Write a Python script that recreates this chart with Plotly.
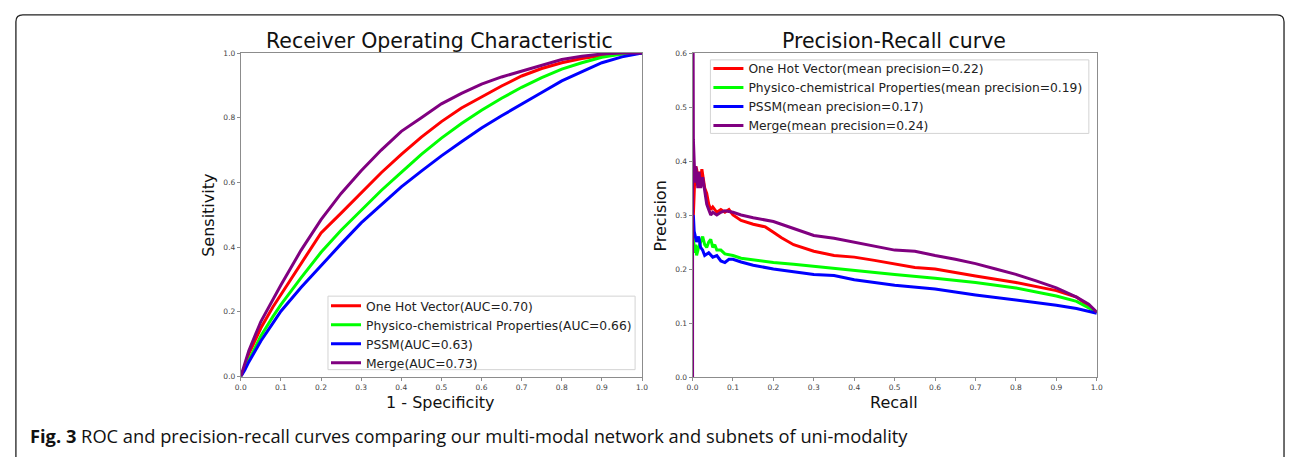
import plotly.graph_objects as go

W, H = 1292, 457

# ---------------- data ----------------
roc_fpr = [0, 0.01, 0.02, 0.05, 0.08, 0.1, 0.15, 0.2, 0.25, 0.3, 0.35, 0.4, 0.45,
           0.5, 0.55, 0.6, 0.65, 0.7, 0.75, 0.8, 0.85, 0.9, 0.95, 1.0]
roc_onehot = [0, 0.03, 0.07, 0.15, 0.215, 0.253, 0.35, 0.444, 0.505, 0.566, 0.63, 0.687, 0.74,
              0.788, 0.83, 0.864, 0.898, 0.929, 0.952, 0.97, 0.983, 0.992, 0.998, 1.0]
roc_physico = [0, 0.025, 0.055, 0.125, 0.185, 0.222, 0.305, 0.384, 0.452, 0.515, 0.575, 0.631, 0.687,
               0.737, 0.782, 0.823, 0.86, 0.894, 0.924, 0.95, 0.97, 0.987, 0.997, 1.0]
roc_pssm = [0, 0.02, 0.045, 0.11, 0.165, 0.202, 0.275, 0.343, 0.41, 0.475, 0.532, 0.586, 0.635,
            0.682, 0.726, 0.768, 0.806, 0.843, 0.878, 0.914, 0.943, 0.97, 0.988, 1.0]
roc_merge = [0, 0.04, 0.08, 0.17, 0.24, 0.283, 0.39, 0.485, 0.566, 0.636, 0.70, 0.758, 0.80,
             0.843, 0.875, 0.904, 0.926, 0.944, 0.963, 0.98, 0.99, 0.997, 1.0, 1.0]

pr_merge_recall = [0, 0, 0.002, 0.004, 0.006, 0.008, 0.01, 0.013, 0.016, 0.02, 0.025, 0.03, 0.035,
                   0.04, 0.045, 0.05, 0.06, 0.07, 0.08, 0.1, 0.12, 0.15, 0.2, 0.25, 0.3, 0.35, 0.4,
                   0.45, 0.5, 0.55, 0.58, 0.6, 0.65, 0.7, 0.75, 0.8, 0.85, 0.9, 0.95, 0.98, 1.0]
pr_merge_prec = [0, 1, 0.44, 0.38, 0.36, 0.39, 0.37, 0.35, 0.38, 0.35, 0.37, 0.345, 0.32,
                 0.31, 0.30, 0.305, 0.30, 0.305, 0.308, 0.305, 0.30, 0.295, 0.288, 0.275, 0.262, 0.257, 0.25,
                 0.242, 0.235, 0.233, 0.228, 0.225, 0.218, 0.21, 0.2, 0.19, 0.178, 0.165, 0.148, 0.135, 0.12]

pr_onehot_recall = [0.002, 0.004, 0.006, 0.008, 0.01, 0.013, 0.016, 0.02, 0.023, 0.026, 0.03, 0.035,
                    0.04, 0.045, 0.05, 0.06, 0.07, 0.08, 0.09, 0.1, 0.12, 0.15, 0.18, 0.2, 0.22, 0.25,
                    0.3, 0.35, 0.4, 0.45, 0.5, 0.55, 0.6, 0.65, 0.7, 0.8, 0.9, 0.95, 1.0]
pr_onehot_prec = [0.30, 0.36, 0.38, 0.39, 0.385, 0.37, 0.38, 0.365, 0.385, 0.37, 0.35, 0.34,
                  0.32, 0.31, 0.315, 0.305, 0.31, 0.305, 0.31, 0.30, 0.29, 0.283, 0.278, 0.268, 0.258, 0.245,
                  0.233, 0.225, 0.222, 0.216, 0.21, 0.203, 0.2, 0.193, 0.187, 0.175, 0.16, 0.148, 0.12]

pr_physico_recall = [0.002, 0.005, 0.008, 0.01, 0.015, 0.02, 0.025, 0.03, 0.035, 0.04, 0.045, 0.05,
                     0.055, 0.06, 0.07, 0.08, 0.1, 0.12, 0.15, 0.2, 0.25, 0.3, 0.4, 0.5, 0.6, 0.7,
                     0.8, 0.9, 0.95, 1.0]
pr_physico_prec = [0.26, 0.23, 0.245, 0.225, 0.24, 0.25, 0.26, 0.245, 0.24, 0.25, 0.255, 0.24,
                   0.245, 0.235, 0.235, 0.228, 0.225, 0.22, 0.217, 0.212, 0.209, 0.205, 0.197, 0.19, 0.183, 0.175,
                   0.165, 0.15, 0.14, 0.12]

pr_pssm_recall = [0.002, 0.004, 0.007, 0.01, 0.015, 0.02, 0.025, 0.03, 0.04, 0.05, 0.06, 0.07, 0.08,
                  0.09, 0.1, 0.12, 0.15, 0.2, 0.25, 0.3, 0.35, 0.4, 0.5, 0.6, 0.7, 0.8, 0.9, 0.95, 1.0]
pr_pssm_prec = [0.30, 0.27, 0.26, 0.25, 0.26, 0.24, 0.235, 0.225, 0.23, 0.222, 0.225, 0.215, 0.212,
                0.218, 0.218, 0.213, 0.207, 0.2, 0.195, 0.19, 0.188, 0.18, 0.17, 0.163, 0.152, 0.143, 0.133, 0.127, 0.118]

roc_labels = ["One Hot Vector(AUC=0.70)", "Physico-chemistrical Properties(AUC=0.66)",
              "PSSM(AUC=0.63)", "Merge(AUC=0.73)"]
pr_labels = ["One Hot Vector(mean precision=0.22)", "Physico-chemistrical Properties(mean precision=0.19)",
             "PSSM(mean precision=0.17)", "Merge(mean precision=0.24)"]
colors = ["#ff0000", "#00ff00", "#0000ff", "#800080"]

x_ticks = [0.0, 0.1, 0.2, 0.3, 0.4, 0.5, 0.6, 0.7, 0.8, 0.9, 1.0]
roc_y_ticks = [0.0, 0.2, 0.4, 0.6, 0.8, 1.0]
pr_y_ticks = [0.0, 0.1, 0.2, 0.3, 0.4, 0.5, 0.6]

caption_bold = "Fig. 3"
caption_text = "ROC and precision-recall curves comparing our multi-modal network and subnets of uni-modality"

# ---------------- figure ----------------
def px(x):
    return x / W

def py(y):
    return 1 - y / H

fig = go.Figure()

roc_series = [roc_onehot, roc_physico, roc_pssm, roc_merge]
for lab, col, ys in zip(roc_labels, colors, roc_series):
    fig.add_trace(go.Scatter(x=roc_fpr, y=ys, mode="lines", name=lab,
                             line=dict(color=col, width=3), xaxis="x", yaxis="y",
                             legend="legend"))

pr_series = [(pr_onehot_recall, pr_onehot_prec), (pr_physico_recall, pr_physico_prec),
             (pr_pssm_recall, pr_pssm_prec), (pr_merge_recall, pr_merge_prec)]
for lab, col, (xs, ys) in zip(pr_labels, colors, pr_series):
    fig.add_trace(go.Scatter(x=xs, y=ys, mode="lines", name=lab,
                             line=dict(color=col, width=3), xaxis="x2", yaxis="y2",
                             legend="legend2"))

tickfont = dict(family="DejaVu Sans", size=7.5, color="#444444")
axis_common = dict(showline=True, linecolor="#8c8c8c", linewidth=1, mirror=True,
                   ticks="outside", ticklen=3, tickcolor="#8c8c8c", showgrid=False,
                   zeroline=False, tickfont=tickfont, tickformat=".1f")

leg_font = dict(family="DejaVu Sans", size=12.3, color="#222222")
fig.update_layout(
    width=W, height=H, autosize=False,
    margin=dict(l=0, r=0, t=0, b=0, pad=0),
    paper_bgcolor="white", plot_bgcolor="white",
    showlegend=True,
    xaxis=dict(domain=[px(237), px(642)], range=[0, 1], tickvals=x_ticks, anchor="y", **axis_common),
    yaxis=dict(domain=[py(380), py(50)], range=[0, 1], tickvals=roc_y_ticks, anchor="x", **axis_common),
    xaxis2=dict(domain=[px(693), px(1101)], range=[0, 1], tickvals=x_ticks, anchor="y2", **axis_common),
    yaxis2=dict(domain=[py(380.5), py(50)], range=[0, 0.6], tickvals=pr_y_ticks, anchor="x2", **axis_common),
    legend=dict(x=px(323), y=py(293), xanchor="left", yanchor="top", xref="paper", yref="paper",
                bgcolor="rgba(0,0,0,0)", borderwidth=0, itemwidth=30,
                font=leg_font, tracegroupgap=0),
    legend2=dict(x=px(709), y=py(51), xanchor="left", yanchor="top", xref="paper", yref="paper",
                 bgcolor="rgba(0,0,0,0)", borderwidth=0, itemwidth=30,
                 font=leg_font, tracegroupgap=0),
)

# legend frames (matplotlib-style boxes)
for (bx0, by0, bx1, by1) in [(325, 298, 635, 373), (711, 57, 1093, 132)]:
    fig.add_shape(type="rect", xref="paper", yref="paper",
                  x0=px(bx0), x1=px(bx1), y0=py(by1), y1=py(by0),
                  line=dict(color="#d3d3d3", width=1), fillcolor="white", layer="above")

title_font = dict(family="DejaVu Sans", size=20.5, color="#111111")
label_font = dict(family="DejaVu Sans", size=16, color="#111111")
ann = [
    dict(text="Receiver Operating Characteristic", x=px(438), y=py(37.5), font=title_font),
    dict(text="Precision-Recall curve", x=px(896), y=py(37.5), font=title_font),
    dict(text="1 - Specificity", x=px(439), y=py(406), font=label_font),
    dict(text="Recall", x=px(896), y=py(406), font=label_font),
    dict(text="Sensitivity", x=px(205), y=py(216), font=label_font, textangle=-90),
    dict(text="Precision", x=px(661), y=py(216), font=label_font, textangle=-90),
    dict(text="<b>" + caption_bold + "</b> " + caption_text, x=px(22), y=py(440), xanchor="left",
         font=dict(family="Open Sans", size=18.3, color="#111111")),
]
for a in ann:
    d = dict(xref="paper", yref="paper", showarrow=False, xanchor="center", yanchor="middle")
    d.update(a)
    fig.add_annotation(**d)

# outer rounded frame (bottom edge falls outside the image)
x0, x1, y0, y1, r = 10, 1290, 11, 475, 7
path = (f"M {px(x0)},{py(y1)} L {px(x0)},{py(y0 + r)} "
        f"Q {px(x0)},{py(y0)} {px(x0 + r)},{py(y0)} "
        f"L {px(x1 - r)},{py(y0)} Q {px(x1)},{py(y0)} {px(x1)},{py(y0 + r)} "
        f"L {px(x1)},{py(y1)}")
fig.add_shape(type="path", path=path, xref="paper", yref="paper",
              line=dict(color="#222222", width=1.3))

fig.write_html("out.html", config={"displayModeBar": False},
               post_script="document.documentElement.style.margin='0';"
                           "document.body.style.margin='0';document.body.style.padding='0';"
                           "document.body.style.overflow='hidden';")
